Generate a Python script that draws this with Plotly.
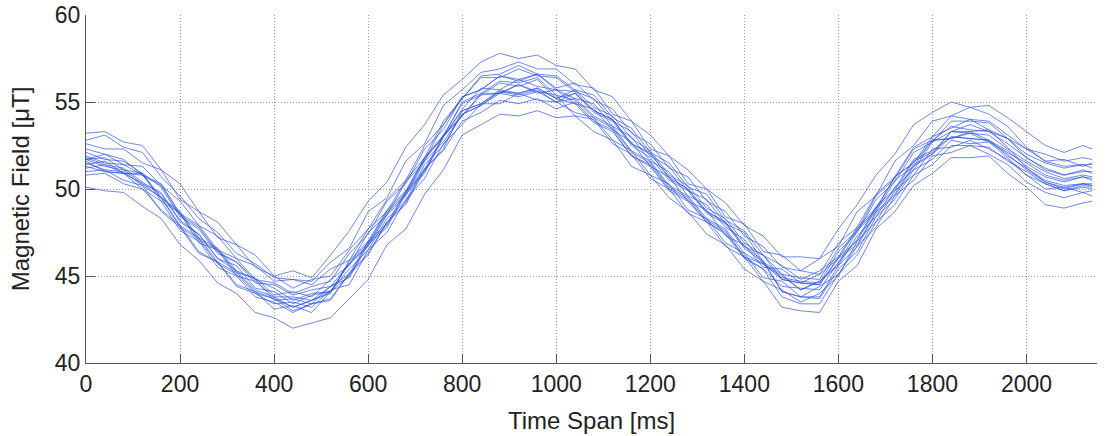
import plotly.graph_objects as go

time_ms = [0, 40, 80, 120, 160, 200, 240, 280, 320, 360, 400, 440, 480, 520, 560, 600, 640, 680,
           720, 760, 800, 840, 880, 920, 960, 1000, 1040, 1080, 1120, 1160, 1200, 1240, 1280,
           1320, 1360, 1400, 1440, 1480, 1520, 1560, 1600, 1640, 1680, 1720, 1760, 1800, 1840,
           1880, 1920, 1960, 2000, 2040, 2080, 2120, 2140]

t01 = [53.2,53.3,52.7,52.5,51.1,50.3,48.7,48.1,46.8,46.2, 45.0,45.3,44.9,46.2,47.6,49.3,50.4,52.4,53.7,55.4,
       56.3,57.3,57.8,57.5,57.7,57.1,56.9,55.7,55.3,53.9, 53.1,51.9,51.1,50.0,49.2,47.9,47.3,46.1,46.1,46.0,
       47.7,49.1,50.8,52.0,53.7,54.4,55.0,54.7,54.8,54.1, 53.3,52.5,52.1,52.5,52.3]
t02 = [52.8,53.1,52.4,52.1,50.7,49.6,48.3,47.5,46.3,45.7, 44.9,44.8,44.7,45.8,46.6,48.7,49.5,51.6,52.6,54.8,
       55.7,56.7,56.9,57.3,56.9,56.9,56.0,55.8,54.3,53.9, 52.3,51.9,50.3,50.0,48.4,48.0,46.4,46.2,45.3,46.0,
       46.7,48.7,49.6,51.6,52.5,53.9,54.2,54.7,54.3,53.6, 52.4,51.6,51.7,51.3,51.5]
t03 = [50.1,49.9,49.8,49.0,48.3,46.8,45.9,44.6,44.0,42.9, 42.6,42.0,42.3,42.6,43.7,44.8,46.8,47.7,49.7,51.1,
       53.1,53.7,54.3,54.2,54.5,54.1,54.2,53.3,52.8,51.3, 50.8,49.5,48.7,47.4,46.8,45.4,44.7,43.2,43.0,42.9,
       44.7,45.6,47.7,48.7,50.2,50.9,51.8,51.8,51.9,50.9, 50.1,49.1,48.9,49.2,49.3]
t04 = [51.7,52.0,51.4,51.3,50.2,49.3,47.9,47.3,46.0,45.6, 44.7,44.8,44.5,45.4,45.9,47.7,48.7,50.5,51.8,53.9,
       55.2,56.5,56.6,57.1,56.6,56.5,55.7,55.4,54.1,53.5, 52.1,51.5,50.1,49.7,48.2,47.6,46.2,45.6,44.8,45.3,
       46.1,47.8,48.9,50.7,51.5,53.0,53.5,54.0,53.4,52.9, 52.0,51.5,51.2,51.4,51.2]
t05 = [51.5,51.1,51.0,50.2,49.5,47.8,47.1,45.7,45.1,44.0, 43.7,43.0,43.4,43.7,45.1,46.2,48.1,49.1,51.1,52.3,
       54.5,54.9,55.6,55.5,55.8,55.2,55.5,54.5,54.0,52.6, 52.1,50.6,50.0,48.7,48.1,46.7,45.9,44.1,43.8,43.7,
       45.4,46.4,48.4,49.4,51.1,51.7,52.8,52.6,52.7,51.8, 50.8,50.0,50.1,49.8,49.9]
t06 = [51.8,51.4,51.2,50.4,49.7,48.2,47.4,46.0,45.3,44.2, 43.8,43.2,43.6,44.1,45.8,46.9,48.7,49.8,51.8,53.0,
       55.0,55.5,56.2,56.1,56.4,55.4,55.1,54.1,53.5,52.1, 51.5,50.1,49.5,48.2,47.6,46.1,45.7,44.9,44.7,44.6,
       46.4,47.5,49.4,50.4,52.1,52.7,53.9,53.9,53.8,52.9, 51.8,51.2,50.8,51.1,50.9]
t07 = [51.0,51.1,50.5,50.2,48.7,47.8,46.3,45.8,44.4,44.0, 43.4,43.5,43.2,44.2,44.5,46.5,47.5,49.4,50.6,52.6,
       53.7,54.9,54.9,55.5,55.1,55.0,54.4,54.1,52.8,52.2, 50.8,50.3,48.8,48.3,46.9,46.3,44.9,44.7,43.8,44.4,
       45.1,46.7,47.8,49.6,50.5,51.9,52.1,52.5,52.0,51.4, 50.4,49.8,49.5,49.8,49.6]
t08 = [52.1,51.7,51.6,50.9,50.1,48.4,47.7,46.3,45.8,44.6, 44.5,43.9,44.2,44.4,45.7,46.8,48.6,49.7,51.7,53.0,
       54.5,54.9,55.7,55.5,55.8,55.2,55.7,54.7,54.2,52.9, 52.2,50.8,50.2,48.9,48.3,46.9,46.2,44.8,44.6,44.5,
       46.1,47.0,48.9,49.9,51.6,52.1,53.3,53.2,53.1,52.3, 51.6,51.0,50.6,50.8,50.7]
t09 = [51.7,51.3,51.1,50.3,49.5,47.9,47.2,45.8,45.2,44.1, 43.7,43.2,43.6,44.0,45.9,47.0,48.8,49.9,51.8,53.1,
       54.9,55.4,56.1,55.9,56.3,55.2,54.9,53.8,53.3,51.9, 51.3,49.9,49.3,48.1,47.4,46.0,45.4,44.4,44.3,44.2,
       45.8,47.1,49.0,50.0,51.7,52.2,53.0,52.9,52.8,51.9, 51.2,50.5,50.2,50.3,50.3]
t10 = [51.9,51.5,51.4,50.8,50.3,48.6,47.9,46.5,46.0,44.8, 44.3,43.6,44.0,44.1,45.4,46.5,48.3,49.3,51.4,52.5,
       54.3,54.8,55.5,55.3,55.6,55.0,55.5,54.4,53.9,52.5, 51.8,50.5,49.9,48.6,48.0,46.6,45.8,44.1,43.8,43.8,
       45.6,46.7,48.6,49.6,51.3,52.0,53.3,53.3,53.4,52.4, 51.2,50.4,50.0,50.3,50.2]
t11 = [51.2,51.4,50.9,50.8,49.5,48.7,47.2,46.6,45.3,44.8, 43.6,43.7,43.4,44.4,44.9,46.8,47.8,49.7,50.9,53.0,
       54.6,55.8,55.7,56.3,55.9,55.7,54.9,54.6,53.4,52.7, 51.3,50.7,49.3,48.8,47.3,46.8,45.5,45.4,44.6,45.1,
       46.0,47.7,48.8,50.7,51.5,52.8,52.9,53.2,52.7,52.1, 51.5,50.8,50.5,50.7,50.6]
t12 = [52.3,52.0,51.7,50.8,50.2,48.5,47.8,46.4,45.8,44.8, 44.6,44.0,44.4,44.7,46.3,47.4,49.3,50.3,52.3,53.4,
       55.3,55.7,56.5,56.3,56.6,55.8,56.1,55.1,54.6,53.2, 52.6,51.2,50.7,49.3,48.7,47.3,46.7,45.5,45.3,45.1,
       46.9,47.8,49.7,50.7,52.4,53.0,54.2,54.0,53.9,53.1, 52.3,51.6,51.3,51.4,51.4]
t13 = [50.8,50.9,50.3,50.0,48.8,47.9,46.4,45.8,44.5,44.1, 43.1,43.3,42.9,44.1,45.0,46.9,47.9,49.8,51.0,53.0,
       54.2,55.5,55.5,56.0,55.6,55.4,54.2,54.0,52.6,52.0, 50.6,50.0,48.6,48.1,46.7,46.1,44.7,44.2,43.5,44.0,
       45.0,47.0,48.1,49.9,50.8,52.3,52.4,52.8,52.3,51.7, 50.8,50.3,49.9,50.1,50.0]
t14 = [51.4,51.6,50.9,50.9,49.3,48.6,46.9,46.5,45.0,44.7, 43.8,43.8,43.6,44.4,45.1,47.0,48.0,49.9,51.1,53.1,
       54.2,55.4,55.5,56.0,55.5,55.7,55.2,54.9,53.6,53.0, 51.6,51.0,49.6,49.1,47.8,47.1,45.7,45.0,44.2,44.7,
       45.7,47.6,48.7,50.5,51.3,52.8,52.9,53.3,52.8,52.2, 51.3,50.7,50.4,50.7,50.5]
t15 = [52.6,52.3,52.3,51.5,51.1,49.4,48.7,47.2,46.8,45.5, 45.0,44.3,44.8,45.0,46.5,47.7,49.4,50.5,52.5,53.7,
       55.3,55.7,56.5,56.2,56.6,55.7,55.6,54.5,54.0,52.6, 52.0,50.7,50.0,48.7,48.1,46.7,46.2,45.1,44.9,44.8,
       46.6,47.6,49.6,50.6,52.3,52.8,53.6,53.4,53.3,52.6, 51.8,51.1,50.8,51.0,51.0]
t16 = [51.6,51.0,50.9,50.0,49.3,47.6,47.0,45.5,45.0,43.8, 43.5,42.9,43.4,43.6,45.2,46.3,48.1,49.2,51.2,52.2,
       53.9,54.4,55.1,54.9,55.2,54.6,55.0,53.9,53.4,51.9, 51.4,50.0,49.4,48.1,47.5,46.1,45.4,43.8,43.4,43.4,
       45.1,46.2,48.1,49.1,50.8,51.4,52.5,52.5,52.4,51.6, 51.0,50.3,49.9,50.2,50.1]
t17 = [51.7,51.8,51.1,50.9,49.5,48.6,47.1,46.5,45.2,44.9, 43.9,44.1,43.8,44.8,45.6,47.5,48.5,50.4,51.6,53.7,
       55.2,56.4,56.4,56.9,56.5,56.4,55.6,55.2,53.9,53.3, 51.9,51.3,49.9,49.4,48.0,47.5,45.8,45.1,44.2,44.7,
       45.6,47.3,48.4,50.1,51.1,52.7,53.3,53.7,53.3,52.9, 52.3,52.0,51.6,51.8,51.7]
t18 = [51.3,51.0,50.9,50.3,49.8,48.1,47.4,46.0,45.6,44.3, 44.1,43.4,43.9,44.1,45.7,46.7,48.5,49.6,51.6,52.7,
       54.3,54.8,55.6,55.4,55.7,55.0,55.2,54.2,53.6,52.2, 51.6,50.2,49.6,48.3,47.7,46.3,45.7,44.8,44.6,44.5,
       46.0,46.8,48.7,49.7,51.4,52.0,53.0,52.9,52.8,52.0, 51.1,50.4,50.1,50.3,50.2]

runs = [t01, t02, t03, t04, t05, t06, t07, t08, t09, t10, t11, t12, t13, t14, t15, t16, t17, t18]

x_ticks = [0, 200, 400, 600, 800, 1000, 1200, 1400, 1600, 1800, 2000]
y_ticks = [40, 45, 50, 55, 60]

FONT = "Liberation Sans, Arial, Helvetica, sans-serif"

fig = go.Figure()
for ys in runs:
    fig.add_trace(go.Scatter(
        x=time_ms, y=ys, mode="lines",
        line=dict(color="rgba(40,80,228,0.68)", width=1),
        showlegend=False, hoverinfo="skip"))

axis_common = dict(
    showline=True, linecolor="#555555", linewidth=1,
    ticks="inside", ticklen=9, tickcolor="#555555", tickwidth=1,
    showgrid=True, gridcolor="#9a9a9a", gridwidth=1, griddash="1px,2px",
    zeroline=False, mirror=False,
    tickfont=dict(family=FONT, size=23, color="#222222"),
)

fig.update_xaxes(range=[0, 2150], tickvals=x_ticks, ticktext=[str(v) for v in x_ticks],
                 title=dict(text="Time Span [ms]", standoff=16,
                            font=dict(family=FONT, size=24, color="#222222")),
                 automargin=False, **axis_common)
fig.update_yaxes(range=[40, 60], tickvals=y_ticks, ticktext=[str(v) for v in y_ticks],
                 title=dict(text="Magnetic Field [μT]", standoff=18,
                            font=dict(family=FONT, size=24, color="#222222")),
                 automargin=False, **axis_common)

fig.update_layout(
    width=1107, height=436,
    margin=dict(l=86, r=10, t=15, b=73),
    paper_bgcolor="white", plot_bgcolor="white",
    showlegend=False,
)

fig.write_html("out.html")
